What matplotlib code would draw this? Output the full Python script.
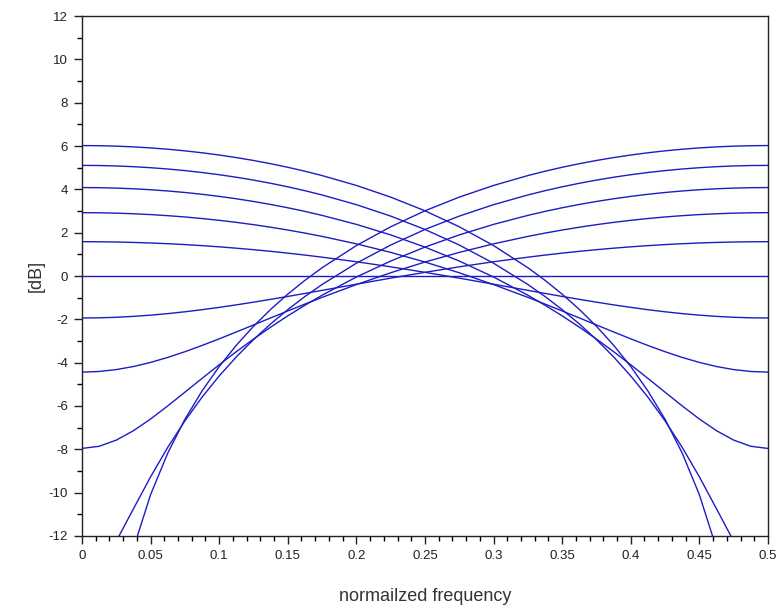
#
# magnitude responses of a 2-tap filter family, scilab look
#

# set the matplotlib backend so figures can be saved in the background
import matplotlib
matplotlib.use("Agg")

# import the necessary packages
import matplotlib.pyplot as plt
from matplotlib.ticker import MultipleLocator

# normalized frequency grid (symmetric around 0.25, denser where curves bend)
freq = [0, 0.0125, 0.025, 0.0375, 0.05, 0.0625, 0.075, 0.0875, 0.1, 0.1125,
        0.125, 0.1375, 0.15, 0.1625, 0.175, 0.2, 0.225, 0.25, 0.275, 0.3,
        0.325, 0.3375, 0.35, 0.3625, 0.375, 0.3875, 0.4, 0.4125, 0.425,
        0.4375, 0.45, 0.4625, 0.475, 0.4875, 0.5]

# curves starting high on the left, in dB (the mirrored ones are the same
# values read from the right edge)
gain_a = [6.021, 6.014, 5.994, 5.960, 5.913, 5.852, 5.777, 5.688, 5.585,
          5.466, 5.333, 5.184, 5.018, 4.836, 4.636, 4.180, 3.641, 3.010,
          2.271, 1.405, 0.382, -0.200, -0.838, -1.542, -2.323, -3.195,
          -4.180, -5.306, -6.616, -8.175, -10.093, -12.576, -16.087,
          -22.104, -60.0]
gain_b = [5.105, 5.099, 5.079, 5.046, 4.999, 4.939, 4.865, 4.777, 4.675,
          4.559, 4.427, 4.280, 4.117, 3.937, 3.741, 3.293, 2.765, 2.148,
          1.429, 0.590, -0.392, -0.947, -1.552, -2.212, -2.936, -3.733,
          -4.615, -5.594, -6.688, -7.910, -9.270, -10.746, -12.240,
          -13.474, -13.979]
gain_c = [4.082, 4.076, 4.057, 4.026, 3.982, 3.925, 3.855, 3.772, 3.675,
          3.565, 3.441, 3.303, 3.150, 2.982, 2.798, 2.383, 1.897, 1.335,
          0.690, -0.047, -0.887, -1.349, -1.840, -2.361, -2.912, -3.492,
          -4.099, -4.726, -5.364, -5.997, -6.601, -7.141, -7.575, -7.860,
          -7.959]
gain_d = [2.923, 2.917, 2.901, 2.873, 2.835, 2.785, 2.725, 2.653, 2.570,
          2.476, 2.370, 2.252, 2.122, 1.981, 1.828, 1.484, 1.090, 0.645,
          0.149, -0.396, -0.986, -1.296, -1.613, -1.935, -2.260, -2.583,
          -2.901, -3.207, -3.495, -3.758, -3.989, -4.178, -4.320, -4.407,
          -4.437]
gain_e = [1.584, 1.580, 1.569, 1.550, 1.524, 1.491, 1.450, 1.402, 1.347,
          1.284, 1.215, 1.139, 1.056, 0.966, 0.869, 0.658, 0.424, 0.170,
          -0.099, -0.379, -0.663, -0.804, -0.943, -1.078, -1.208, -1.332,
          -1.448, -1.556, -1.652, -1.736, -1.807, -1.864, -1.905, -1.930,
          -1.938]

# flat 0 dB line
freq_flat = [0.0, 0.5]
gain_flat = [0.0, 0.0]

# tick labels
xticks = [0, 0.05, 0.1, 0.15, 0.2, 0.25, 0.3, 0.35, 0.4, 0.45, 0.5]
xtick_labels = ["0", "0.05", "0.1", "0.15", "0.2", "0.25", "0.3", "0.35",
                "0.4", "0.45", "0.5"]
yticks = [-12, -10, -8, -6, -4, -2, 0, 2, 4, 6, 8, 10, 12]

plt.rcParams["font.family"] = ["Liberation Sans", "DejaVu Sans"]

fig = plt.figure(figsize=(7.83, 6.07), dpi=100)
ax = fig.add_axes([0.1047, 0.1170, 0.8761, 0.8566])

col = "#1c1cc4"
for g in [gain_a, gain_b, gain_c, gain_d, gain_e]:
    ax.plot(freq, g, color=col, lw=1.0)
    ax.plot(freq, g[::-1], color=col, lw=1.0)
ax.plot(freq_flat, gain_flat, color=col, lw=1.0)

ax.set_xlim(0, 0.5)
ax.set_ylim(-12, 12)
ax.set_xticks(xticks)
ax.set_xticklabels(xtick_labels)
ax.set_yticks(yticks)
ax.set_yticklabels([str(v) for v in yticks])
ax.xaxis.set_minor_locator(MultipleLocator(0.01))
ax.yaxis.set_minor_locator(MultipleLocator(1))
ax.tick_params(which="major", direction="out", length=6, width=1,
               labelsize=9.5, colors="#222222", pad=4,
               top=False, right=False)
ax.tick_params(which="minor", direction="out", length=3.5, width=1,
               top=False, right=False)
for s in ax.spines.values():
    s.set_linewidth(1.0)
    s.set_color("#222222")

ax.set_xlabel("normailzed frequency", fontsize=13, labelpad=19,
              color="#333333")
ax.set_ylabel("[dB]", fontsize=13, labelpad=3, color="#333333")

plt.savefig("out.png", dpi=100)
